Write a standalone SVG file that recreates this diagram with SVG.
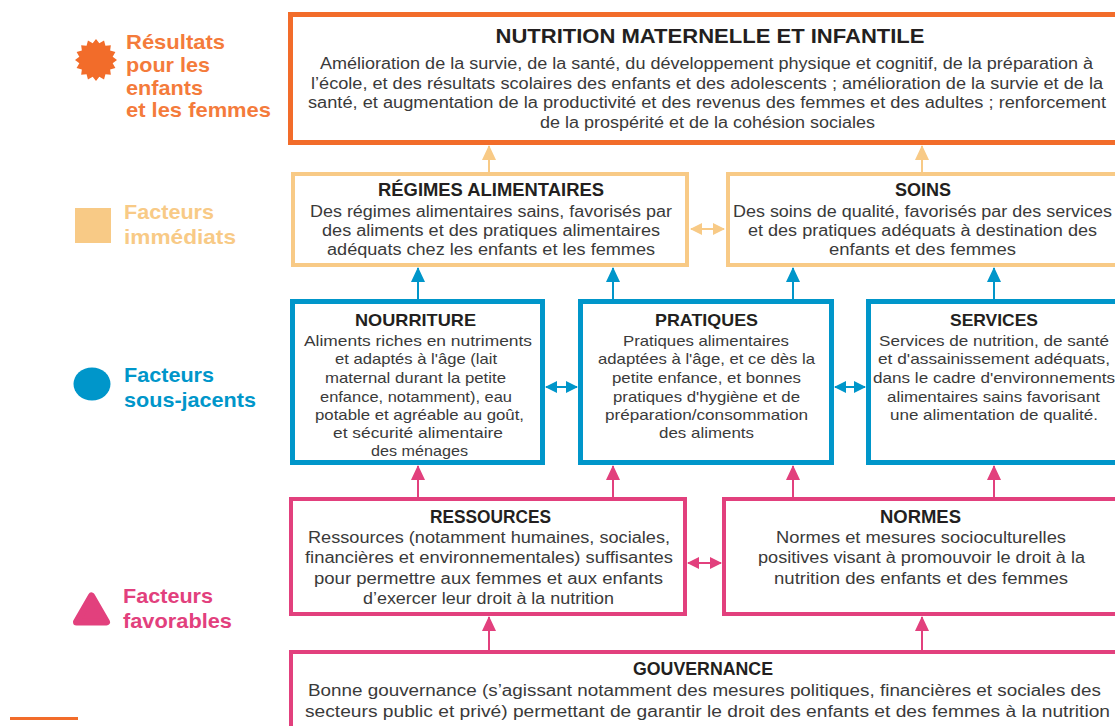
<svg xmlns="http://www.w3.org/2000/svg" width="1115" height="726" viewBox="0 0 1115 726">
<style>
.t{font-family:"Liberation Sans",Arial,sans-serif;font-weight:bold;fill:#231F20;text-anchor:middle}
.b{font-family:"Liberation Sans",Arial,sans-serif;fill:#3A3A3A;text-anchor:middle;font-size:16px}
.b3{font-family:"Liberation Sans",Arial,sans-serif;fill:#3A3A3A;text-anchor:middle;font-size:15px}
.lg{font-family:"Liberation Sans",Arial,sans-serif;font-weight:bold;font-size:21px}
.box{fill:#fff}
.or{stroke:#F26C2A;stroke-width:5}
.lo{stroke:#F8CA86;stroke-width:4}
.bl{stroke:#0096CA;stroke-width:5}
.pk{stroke:#E2407D;stroke-width:4}
.c-lo{stroke:#F8CA86;stroke-width:2;fill:none}
.c-bl{stroke:#0096CA;stroke-width:2;fill:none}
.c-pk{stroke:#E2407D;stroke-width:2;fill:none}
</style>
<defs>
<marker id="aLo" markerUnits="userSpaceOnUse" markerWidth="15" markerHeight="14" refX="14" refY="7" orient="auto-start-reverse"><path d="M0,0 L15,7 L0,14 z" fill="#F8CA86"/></marker>
<marker id="aBl" markerUnits="userSpaceOnUse" markerWidth="15" markerHeight="14" refX="14" refY="7" orient="auto-start-reverse"><path d="M0,0 L15,7 L0,14 z" fill="#0096CA"/></marker>
<marker id="aPk" markerUnits="userSpaceOnUse" markerWidth="15" markerHeight="14" refX="14" refY="7" orient="auto-start-reverse"><path d="M0,0 L15,7 L0,14 z" fill="#E2407D"/></marker>
<marker id="sLo" markerUnits="userSpaceOnUse" markerWidth="12" markerHeight="12" refX="11" refY="6" orient="auto-start-reverse"><path d="M0,0 L12,6 L0,12 z" fill="#F8CA86"/></marker>
<marker id="sBl" markerUnits="userSpaceOnUse" markerWidth="12" markerHeight="12" refX="11" refY="6" orient="auto-start-reverse"><path d="M0,0 L12,6 L0,12 z" fill="#0096CA"/></marker>
<marker id="sPk" markerUnits="userSpaceOnUse" markerWidth="12" markerHeight="12" refX="11" refY="6" orient="auto-start-reverse"><path d="M0,0 L12,6 L0,12 z" fill="#E2407D"/></marker>
</defs>
<rect width="1115" height="726" fill="#fff"/>

<g id="legend">
<polygon fill="#F26C2A" points="117,60 112.67,63.32 115.4,68.04 110.14,69.45 110.85,74.85 105.45,74.14 104.04,79.4 99.32,76.67 96,81 92.68,76.67 87.96,79.4 86.55,74.14 81.15,74.85 81.86,69.45 76.6,68.04 79.33,63.32 75,60 79.33,56.68 76.6,51.96 81.86,50.55 81.15,45.15 86.55,45.86 87.96,40.6 92.68,43.33 96,39 99.32,43.33 104.04,40.6 105.45,45.86 110.85,45.15 110.14,50.55 115.4,51.96 112.67,56.68"/>
<text class="lg" fill="#F47B3B" x="126" y="49" textLength="99" lengthAdjust="spacingAndGlyphs">Résultats</text>
<text class="lg" fill="#F47B3B" x="126" y="72" textLength="84" lengthAdjust="spacingAndGlyphs">pour les</text>
<text class="lg" fill="#F47B3B" x="126" y="94.5" textLength="77" lengthAdjust="spacingAndGlyphs">enfants</text>
<text class="lg" fill="#F47B3B" x="126" y="117" textLength="145" lengthAdjust="spacingAndGlyphs">et les femmes</text>
<rect x="75" y="208" width="36" height="35" fill="#F8CA86"/>
<text class="lg" fill="#F8CA86" x="124" y="219" textLength="90" lengthAdjust="spacingAndGlyphs">Facteurs</text>
<text class="lg" fill="#F8CA86" x="124" y="244" textLength="112" lengthAdjust="spacingAndGlyphs">immédiats</text>
<ellipse cx="92" cy="384" rx="18.5" ry="16.5" fill="#0096CA"/>
<text class="lg" fill="#0096CA" x="124" y="382" textLength="90" lengthAdjust="spacingAndGlyphs">Facteurs</text>
<text class="lg" fill="#0096CA" x="124" y="407" textLength="132" lengthAdjust="spacingAndGlyphs">sous-jacents</text>
<polygon points="91.5,596 106.5,622 76.5,622" fill="#E2407D" stroke="#E2407D" stroke-width="7" stroke-linejoin="round"/>
<text class="lg" fill="#E2407D" x="123" y="603" textLength="90" lengthAdjust="spacingAndGlyphs">Facteurs</text>
<text class="lg" fill="#E2407D" x="123" y="628" textLength="109" lengthAdjust="spacingAndGlyphs">favorables</text>
<line x1="10" y1="718.5" x2="78" y2="718.5" stroke="#F26C2A" stroke-width="3"/>
</g>

<g id="connectors">
<line class="c-lo" x1="489" y1="172" x2="489" y2="146" marker-end="url(#aLo)"/>
<line class="c-lo" x1="922" y1="172" x2="922" y2="146" marker-end="url(#aLo)"/>
<line class="c-lo" x1="691" y1="229" x2="724" y2="229" marker-start="url(#sLo)" marker-end="url(#sLo)"/>
<line class="c-bl" x1="418" y1="299" x2="418" y2="268" marker-end="url(#aBl)"/>
<line class="c-bl" x1="613" y1="299" x2="613" y2="268" marker-end="url(#aBl)"/>
<line class="c-bl" x1="793" y1="299" x2="793" y2="268" marker-end="url(#aBl)"/>
<line class="c-bl" x1="994" y1="299" x2="994" y2="268" marker-end="url(#aBl)"/>
<line class="c-bl" x1="546" y1="387" x2="577" y2="387" marker-start="url(#sBl)" marker-end="url(#sBl)"/>
<line class="c-bl" x1="835" y1="387" x2="865" y2="387" marker-start="url(#sBl)" marker-end="url(#sBl)"/>
<line class="c-pk" x1="418" y1="497" x2="418" y2="466" marker-end="url(#aPk)"/>
<line class="c-pk" x1="613" y1="497" x2="613" y2="466" marker-end="url(#aPk)"/>
<line class="c-pk" x1="793" y1="497" x2="793" y2="466" marker-end="url(#aPk)"/>
<line class="c-pk" x1="994" y1="497" x2="994" y2="466" marker-end="url(#aPk)"/>
<line class="c-pk" x1="688" y1="563" x2="721" y2="563" marker-start="url(#sPk)" marker-end="url(#sPk)"/>
<line class="c-pk" x1="489" y1="650" x2="489" y2="617" marker-end="url(#aPk)"/>
<line class="c-pk" x1="922" y1="650" x2="922" y2="617" marker-end="url(#aPk)"/>
</g>

<g id="nutrition">
<rect class="box or" x="290.5" y="14.5" width="835" height="128"/>
<text class="t" x="710" y="43" font-size="21" textLength="429" lengthAdjust="spacingAndGlyphs">NUTRITION MATERNELLE ET INFANTILE</text>
<text class="b" x="706.5" y="69" textLength="773" lengthAdjust="spacingAndGlyphs">Amélioration de la survie, de la santé, du développement physique et cognitif, de la préparation à</text>
<text class="b" x="707" y="89" textLength="792" lengthAdjust="spacingAndGlyphs">l’école, et des résultats scolaires des enfants et des adolescents ; amélioration de la survie et de la</text>
<text class="b" x="707" y="108" textLength="798" lengthAdjust="spacingAndGlyphs">santé, et augmentation de la productivité et des revenus des femmes et des adultes ; renforcement</text>
<text class="b" x="707.5" y="128" textLength="335" lengthAdjust="spacingAndGlyphs">de la prospérité et de la cohésion sociales</text>
</g>

<g id="regimes">
<rect class="box lo" x="293" y="174" width="394" height="91"/>
<text class="t" x="491" y="196" font-size="18" textLength="226" lengthAdjust="spacingAndGlyphs">RÉGIMES ALIMENTAIRES</text>
<text class="b" x="491" y="216.5" textLength="362" lengthAdjust="spacingAndGlyphs">Des régimes alimentaires sains, favorisés par</text>
<text class="b" x="491" y="235.5" textLength="338" lengthAdjust="spacingAndGlyphs">des aliments et des pratiques alimentaires</text>
<text class="b" x="491" y="254.5" textLength="328" lengthAdjust="spacingAndGlyphs">adéquats chez les enfants et les femmes</text>
</g>

<g id="soins">
<rect class="box lo" x="728" y="174" width="400" height="91"/>
<text class="t" x="923" y="196" font-size="18" textLength="56" lengthAdjust="spacingAndGlyphs">SOINS</text>
<text class="b" x="922.5" y="216.5" textLength="379" lengthAdjust="spacingAndGlyphs">Des soins de qualité, favorisés par des services</text>
<text class="b" x="922.5" y="235.5" textLength="349" lengthAdjust="spacingAndGlyphs">et des pratiques adéquats à destination des</text>
<text class="b" x="922.5" y="254.5" textLength="187" lengthAdjust="spacingAndGlyphs">enfants et des femmes</text>
</g>

<g id="nourriture">
<rect class="box bl" x="292.5" y="301.5" width="250" height="161"/>
<text class="t" x="415.5" y="326" font-size="17" textLength="121" lengthAdjust="spacingAndGlyphs">NOURRITURE</text>
<text class="b3" x="418" y="346" textLength="228" lengthAdjust="spacingAndGlyphs">Aliments riches en nutriments</text>
<text class="b3" x="416" y="364" textLength="162" lengthAdjust="spacingAndGlyphs">et adaptés à l'âge (lait</text>
<text class="b3" x="415.5" y="383" textLength="181" lengthAdjust="spacingAndGlyphs">maternal durant la petite</text>
<text class="b3" x="416" y="402" textLength="192" lengthAdjust="spacingAndGlyphs">enfance, notamment), eau</text>
<text class="b3" x="419.5" y="420" textLength="209" lengthAdjust="spacingAndGlyphs">potable et agréable au goût,</text>
<text class="b3" x="418" y="438" textLength="170" lengthAdjust="spacingAndGlyphs">et sécurité alimentaire</text>
<text class="b3" x="419.5" y="456" textLength="97" lengthAdjust="spacingAndGlyphs">des ménages</text>
</g>

<g id="pratiques">
<rect class="box bl" x="580.5" y="301.5" width="251" height="161"/>
<text class="t" x="706.5" y="326" font-size="17" textLength="103" lengthAdjust="spacingAndGlyphs">PRATIQUES</text>
<text class="b3" x="706" y="346" textLength="166" lengthAdjust="spacingAndGlyphs">Pratiques alimentaires</text>
<text class="b3" x="706.5" y="364" textLength="217" lengthAdjust="spacingAndGlyphs">adaptées à l'âge, et ce dès la</text>
<text class="b3" x="706.5" y="383" textLength="189" lengthAdjust="spacingAndGlyphs">petite enfance, et bonnes</text>
<text class="b3" x="706.5" y="402" textLength="187" lengthAdjust="spacingAndGlyphs">pratiques d'hygiène et de</text>
<text class="b3" x="706.5" y="420" textLength="203" lengthAdjust="spacingAndGlyphs">préparation/consommation</text>
<text class="b3" x="706.5" y="438" textLength="95" lengthAdjust="spacingAndGlyphs">des aliments</text>
</g>

<g id="services">
<rect class="box bl" x="868.5" y="301.5" width="260" height="161"/>
<text class="t" x="994" y="326" font-size="17" textLength="88" lengthAdjust="spacingAndGlyphs">SERVICES</text>
<text class="b3" x="994" y="346" textLength="230" lengthAdjust="spacingAndGlyphs">Services de nutrition, de santé</text>
<text class="b3" x="994" y="364" textLength="232" lengthAdjust="spacingAndGlyphs">et d'assainissement adéquats,</text>
<text class="b3" x="994" y="383" textLength="242" lengthAdjust="spacingAndGlyphs">dans le cadre d'environnements</text>
<text class="b3" x="993.5" y="402" textLength="213" lengthAdjust="spacingAndGlyphs">alimentaires sains favorisant</text>
<text class="b3" x="994" y="420" textLength="208" lengthAdjust="spacingAndGlyphs">une alimentation de qualité.</text>
</g>

<g id="ressources">
<rect class="box pk" x="291" y="499" width="394" height="115"/>
<text class="t" x="490.5" y="523" font-size="18" textLength="121" lengthAdjust="spacingAndGlyphs">RESSOURCES</text>
<text class="b" x="489" y="542.5" textLength="362" lengthAdjust="spacingAndGlyphs">Ressources (notamment humaines, sociales,</text>
<text class="b" x="489" y="562.5" textLength="368" lengthAdjust="spacingAndGlyphs">financières et environnementales) suffisantes</text>
<text class="b" x="488.5" y="583.5" textLength="349" lengthAdjust="spacingAndGlyphs">pour permettre aux femmes et aux enfants</text>
<text class="b" x="488.5" y="603.5" textLength="251" lengthAdjust="spacingAndGlyphs">d’exercer leur droit à la nutrition</text>
</g>

<g id="normes">
<rect class="box pk" x="724" y="499" width="400" height="115"/>
<text class="t" x="920.5" y="523" font-size="18" textLength="81" lengthAdjust="spacingAndGlyphs">NORMES</text>
<text class="b" x="921" y="542.5" textLength="290" lengthAdjust="spacingAndGlyphs">Normes et mesures socioculturelles</text>
<text class="b" x="921.5" y="562.5" textLength="327" lengthAdjust="spacingAndGlyphs">positives visant à promouvoir le droit à la</text>
<text class="b" x="921" y="583.5" textLength="294" lengthAdjust="spacingAndGlyphs">nutrition des enfants et des femmes</text>
</g>

<g id="gouvernance">
<rect class="box pk" x="291" y="652" width="835" height="90"/>
<text class="t" x="703" y="675" font-size="18" textLength="140" lengthAdjust="spacingAndGlyphs">GOUVERNANCE</text>
<text class="b" x="704.5" y="695.5" textLength="793" lengthAdjust="spacingAndGlyphs">Bonne gouvernance (s’agissant notamment des mesures politiques, financières et sociales des</text>
<text class="b" x="707.5" y="716.5" textLength="805" lengthAdjust="spacingAndGlyphs">secteurs public et privé) permettant de garantir le droit des enfants et des femmes à la nutrition</text>
</g>
</svg>
